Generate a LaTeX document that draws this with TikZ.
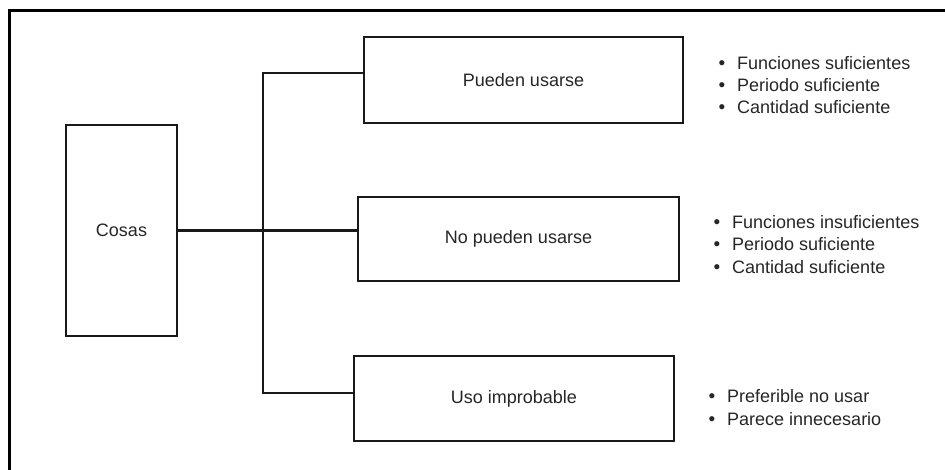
\documentclass[tikz,border=0pt]{standalone}
\usepackage{fontspec}
\setmainfont{Liberation Sans}
\begin{document}
\begin{tikzpicture}[x=1pt,y=-1pt,
  box/.style={draw=black!90, line width=2pt, inner sep=0pt, font=\fontsize{18}{21}\selectfont, text=black!85},
  conn/.style={draw=black!90, line width=2.2pt},
  item/.style={anchor=base west, inner sep=0pt, font=\fontsize{18}{21}\selectfont, text=black!85},
  bul/.style={anchor=base, inner sep=0pt, font=\fontsize{19}{21}\selectfont, text=black!85}]
\useasboundingbox (0,0) rectangle (945,470);
\fill[white] (0,0) rectangle (945,470);
% outer frame (open at right and bottom)
\draw[line width=2.8pt, black] (9.5,470) -- (9.5,10.5) -- (945,10.5);
% boxes
\node[box, minimum width=111pt, minimum height=211pt] (cosas) at (121.5,230.5) {Cosas};
\node[box, minimum width=319pt, minimum height=86pt] (b1) at (523.5,80) {Pueden usarse};
\node[box, minimum width=321pt, minimum height=84pt] (b2) at (518.5,239) {No pueden usarse};
\node[box, minimum width=320pt, minimum height=85pt] (b3) at (514,398.5) {Uso improbable};
% connectors
\coordinate (jt) at (263,73);
\coordinate (jb) at (263,393);
\draw[conn] (cosas.east) -- (cosas.east -| b2.west);
\draw[conn] (jt -| b1.west) -- (jt) -- (jb) -- (jb -| b3.west);
% bullet lists
\node[bul] (p1) at (722,70) {•};
\node[item] (t1) at (737,70) {Funciones suficientes};
\node[bul] (p2) at (722,92) {•};
\node[item] (t2) at (737,92) {Periodo suficiente};
\node[bul] (p3) at (722,114) {•};
\node[item] (t3) at (737,114) {Cantidad suficiente};
\node[bul] (q1) at (717,229) {•};
\node[item] (u1) at (732,229) {Funciones insuficientes};
\node[bul] (q2) at (717,251) {•};
\node[item] (u2) at (732,251) {Periodo suficiente};
\node[bul] (q3) at (717,274) {•};
\node[item] (u3) at (732,274) {Cantidad suficiente};
\node[bul] (r1) at (712,402) {•};
\node[item] (v1) at (727,402) {Preferible no usar};
\node[bul] (r2) at (712,425) {•};
\node[item] (v2) at (727,425) {Parece innecesario};
\end{tikzpicture}
\end{document}
